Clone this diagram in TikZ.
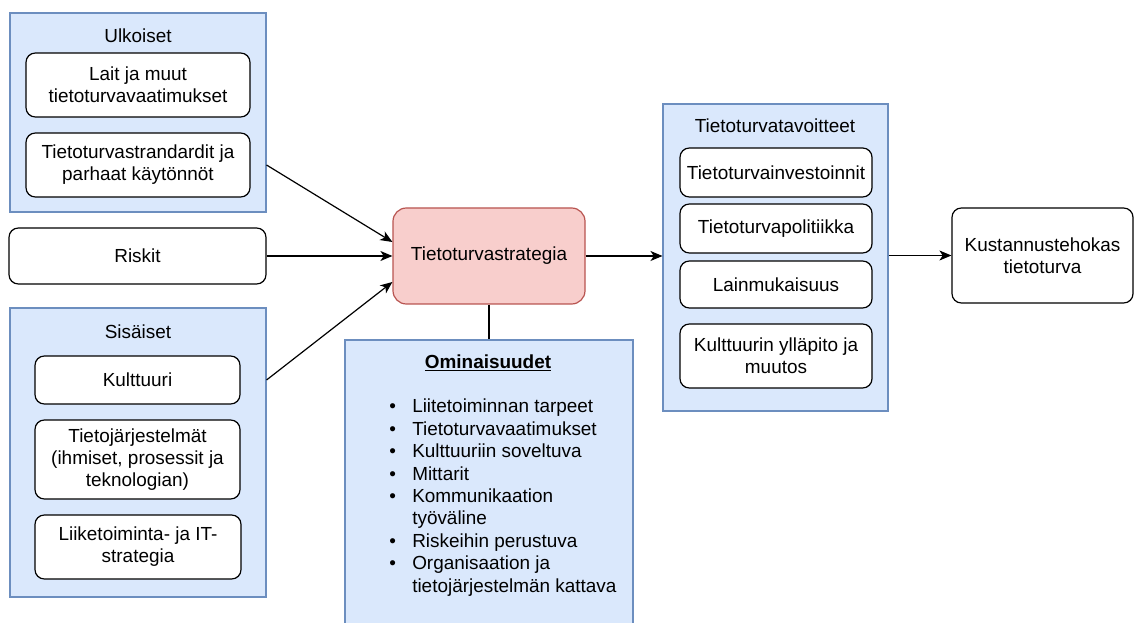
\documentclass[tikz,border=0pt]{standalone}
\usepackage{fontspec}
\setmainfont{Liberation Sans}
\usetikzlibrary{arrows.meta}
\definecolor{lblue}{HTML}{DAE8FC}
\definecolor{dblue}{HTML}{6C8EBF}
\definecolor{lred}{HTML}{F8CECC}
\definecolor{dred}{HTML}{B85450}
\newcommand{\px}{0.75pt}
\newcommand{\dfont}{\fontsize{14.2}{16.5}\selectfont}

\begin{document}
\begin{tikzpicture}[x=0.75pt,y=-0.75pt,
 grp/.style={draw=dblue,fill=lblue,line width=0.8pt,inner sep=0pt},
 item/.style={draw=black,fill=white,rounded corners=7pt,line width=0.9pt,align=center,font=\dfont,inner sep=0pt},
 lbl/.style={font=\dfont,inner sep=0pt},
 arr/.style={-{Stealth[length=9pt,width=7.5pt,inset=2.5pt]},line width=0.9pt}]
 \useasboundingbox (0,0) rectangle (1134,623);
 \node[grp,minimum width=256*\px,minimum height=199*\px] (ulk) at (138,112.5) {};
 \node[lbl] (ulkt) at (138,36) {Ulkoiset};
 \node[item,minimum width=224*\px,minimum height=64*\px] (lait) at (138,85) {Lait ja muut\\tietoturvavaatimukset};
 \node[item,minimum width=224*\px,minimum height=64*\px] (stand) at (138,165) {Tietoturvastrandardit ja\\parhaat käytönnöt};
 \node[item,minimum width=257*\px,minimum height=56*\px] (riskit) at (137.5,256) {Riskit};
 \node[grp,minimum width=256*\px,minimum height=289*\px] (sis) at (138,452.5) {};
 \node[lbl] (sist) at (138,332) {Sisäiset};
 \node[item,minimum width=205*\px,minimum height=48*\px] (kult) at (137.5,380) {Kulttuuri};
 \node[item,minimum width=205*\px,minimum height=79*\px] (tjar) at (137.5,459.5) {Tietojärjestelmät\\(ihmiset, prosessit ja\\teknologian)};
 \node[item,minimum width=206*\px,minimum height=64*\px] (liik) at (138,547) {Liiketoiminta- ja IT-\\strategia};
 \node[item,draw=dred,fill=lred,rounded corners=10pt,minimum width=192*\px,minimum height=96*\px] (strat) at (489,256) {Tietoturvastrategia};
 \node[grp,minimum width=288*\px,minimum height=300*\px] (omin) at (489,490) {};
 \node[lbl] (ominat) at (488,363) {\underline{\textbf{Ominaisuudet}}};
 \node[lbl,anchor=north west,align=left,font=\fontsize{14.2}{16.8}\selectfont] (ominl) at (389,399) {%
  \makebox[17.25pt][l]{\textbullet}Liitetoiminnan tarpeet\\
  \makebox[17.25pt][l]{\textbullet}Tietoturvavaatimukset\\
  \makebox[17.25pt][l]{\textbullet}Kulttuuriin soveltuva\\
  \makebox[17.25pt][l]{\textbullet}Mittarit\\
  \makebox[17.25pt][l]{\textbullet}Kommunikaation\\
  \hspace*{17.25pt}työväline\\
  \makebox[17.25pt][l]{\textbullet}Riskeihin perustuva\\
  \makebox[17.25pt][l]{\textbullet}Organisaation ja\\
  \hspace*{17.25pt}tietojärjestelmän kattava};
 \node[grp,minimum width=225*\px,minimum height=307*\px] (tav) at (775.5,257.5) {};
 \node[lbl] (tavt) at (775,126) {Tietoturvatavoitteet};
 \node[item,minimum width=192*\px,minimum height=49*\px] (inv) at (776,172.5) {Tietoturvainvestoinnit};
 \node[item,minimum width=192*\px,minimum height=49*\px] (pol) at (776,228.5) {Tietoturvapolitiikka};
 \node[item,minimum width=192*\px,minimum height=47*\px] (lain) at (776,284.5) {Lainmukaisuus};
 \node[item,minimum width=192*\px,minimum height=64*\px] (kmuut) at (776,356) {Kulttuurin ylläpito ja\\muutos};
 \node[item,minimum width=181*\px,minimum height=95*\px] (kust) at (1042.5,255.5) {Kustannustehokas\\tietoturva};
 \draw[arr] (ulk.east |- stand) -- ([yshift=10.5pt]strat.west);
 \draw[arr] (riskit.east) -- (strat.west);
 \draw[arr] (sis.east |- kult) -- ([yshift=-19.5pt]strat.west);
 \draw[line width=0.9pt] (strat.south) -- (strat.south |- omin.north);
 \draw[arr] (strat.east) -- (strat.east -| tav.west);
 \draw[arr] (kust.west -| tav.east) -- (kust.west);
\end{tikzpicture}
\end{document}
